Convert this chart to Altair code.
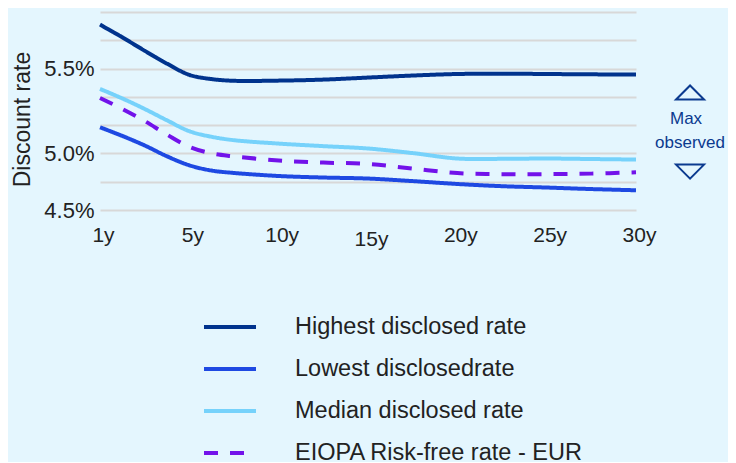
import altair as alt
import pandas as pd

# x positions on an evenly spaced maturity axis (index 0..6 -> 1y,5y,10y,...,30y)
x_idx = [0, 0.25, 0.5, 0.75, 1, 1.25, 1.5, 2, 2.5, 3, 3.5, 4, 4.5, 5, 5.5, 6]
tick_labels = ["1y", "5y", "10y", "15y", "20y", "25y", "30y"]

highest = [5.759, 5.684, 5.605, 5.529, 5.463, 5.438, 5.428, 5.429, 5.435, 5.447,
           5.459, 5.468, 5.470, 5.468, 5.466, 5.465]
lowest = [5.154, 5.103, 5.047, 4.983, 4.930, 4.899, 4.885, 4.867, 4.858, 4.852,
          4.837, 4.820, 4.807, 4.799, 4.790, 4.783]
median = [5.380, 5.324, 5.262, 5.195, 5.131, 5.098, 5.078, 5.058, 5.043, 5.029,
          5.002, 4.970, 4.968, 4.970, 4.967, 4.964]
eiopa = [5.327, 5.262, 5.191, 5.111, 5.039, 5.000, 4.983, 4.958, 4.946, 4.938,
         4.911, 4.884, 4.878, 4.878, 4.881, 4.889]

series_names = ["Highest disclosed rate", "Lowest disclosedrate",
                "Median disclosed rate", "EIOPA Risk-free rate - EUR"]
series_colors = ["#00338d", "#1e49e2", "#76d2fb", "#7213ea"]
series_dash = [[1, 0], [1, 0], [1, 0], [14, 12]]

step = 0.5 / 3
grid_vals = [round(5.5 + 2 * step - i * step, 6) for i in range(8)]
y_lo, y_hi = grid_vals[-1], grid_vals[0]

rows = []
for name, vals in zip(series_names, [highest, lowest, median, eiopa]):
    for xi, v in zip(x_idx, vals):
        rows.append({"x": xi, "rate": v, "series": name})
df = pd.DataFrame(rows)

label_expr = ("datum.value == 0 ? '1y' : datum.value == 1 ? '5y' : datum.value == 2 ? '10y' : "
              "datum.value == 3 ? '15y' : datum.value == 4 ? '20y' : datum.value == 5 ? '25y' : '30y'")
y_label_expr = ("abs(datum.value - 5.5) < 0.01 ? '5.5%' : abs(datum.value - 5.0) < 0.01 ? '5.0%' : "
                "datum.value < 4.7 ? '4.5%' : ''")

legend_cfg = dict(title=None, orient="none", legendX=102, legendY=287,
                  symbolType="stroke", symbolSize=2704, symbolStrokeWidth=4,
                  labelFontSize=23.5, labelFont="Liberation Sans",
                  labelColor="#222222", labelOffset=37, rowPadding=2, labelLimit=400)

lines = alt.Chart(df).mark_line(interpolate="catmull-rom", strokeWidth=4).encode(
    x=alt.X("x:Q", scale=alt.Scale(domain=[0, 6], nice=False),
            axis=alt.Axis(values=[0, 1, 2, 3, 4, 5, 6], labelExpr=label_expr, title=None,
                          grid=False, domain=False, ticks=False, labelFontSize=21,
                          labelColor="#222222",
                          labelPadding={"condition": {"test": "datum.value == 3", "value": 18},
                                        "value": 14},
                          labelFont="Liberation Sans",
                          labelFlush=False, labelOffset=3, tickCount=20)),
    y=alt.Y("rate:Q", scale=alt.Scale(domain=[y_lo, y_hi], nice=False, zero=False),
            axis=alt.Axis(values=grid_vals, tickCount=20, labelExpr=y_label_expr,
                          title="Discount rate",
                          grid=True, gridColor="#d8d8d8", gridWidth=2, domain=False, ticks=False,
                          labelFontSize=22, labelColor="#222222", labelPadding=6,
                          labelFont="Liberation Sans", titleFont="Liberation Sans",
                          titleFontSize=23, titleFontWeight="normal", titleColor="#222222",
                          titleX=-66, titleY=107)),
    color=alt.Color("series:N", sort=series_names,
                    scale=alt.Scale(domain=series_names, range=series_colors),
                    legend=alt.Legend(**legend_cfg)),
    strokeDash=alt.StrokeDash("series:N", sort=series_names,
                              scale=alt.Scale(domain=series_names, range=series_dash),
                              legend=alt.Legend(**legend_cfg)),
)

# Right-hand annotation
ann_x = [6.605, 6.605]
ann_tri_y = [5.359, 4.893]
ann_tri_shape = ["M-1,0.5L0,-0.5L1,0.5Z", "M-1,-0.5L0,0.5L1,-0.5Z"]
ann_text = ["Max", "observed"]
ann_text_x = [6.56, 6.605]
ann_text_y = [5.2, 5.064]

tri_df = pd.DataFrame({"x": ann_x, "y": ann_tri_y, "shape": ann_tri_shape})
txt_df = pd.DataFrame({"x": ann_text_x, "y": ann_text_y, "t": ann_text})

tris = alt.Chart(tri_df).mark_point(filled=False, size=784, strokeWidth=2, color="#0b3a8f",
                                    clip=False, opacity=1).encode(
    x="x:Q", y="y:Q", shape=alt.Shape("shape:N", scale=None, legend=None))
texts = alt.Chart(txt_df).mark_text(fontSize=17, font="Liberation Sans", color="#0b3a8f",
                                    clip=False).encode(x="x:Q", y="y:Q", text="t:N")

chart = alt.layer(lines, tris, texts).properties(
    width=536, height=198,
    padding={"left": 92, "top": 4, "right": 92, "bottom": 252},
    autosize=alt.AutoSizeParams(type="none"),
    background="#e4f6fe",
).configure_view(stroke=None)

chart.save("out.html", embed_options={"renderer": "svg", "actions": False})
